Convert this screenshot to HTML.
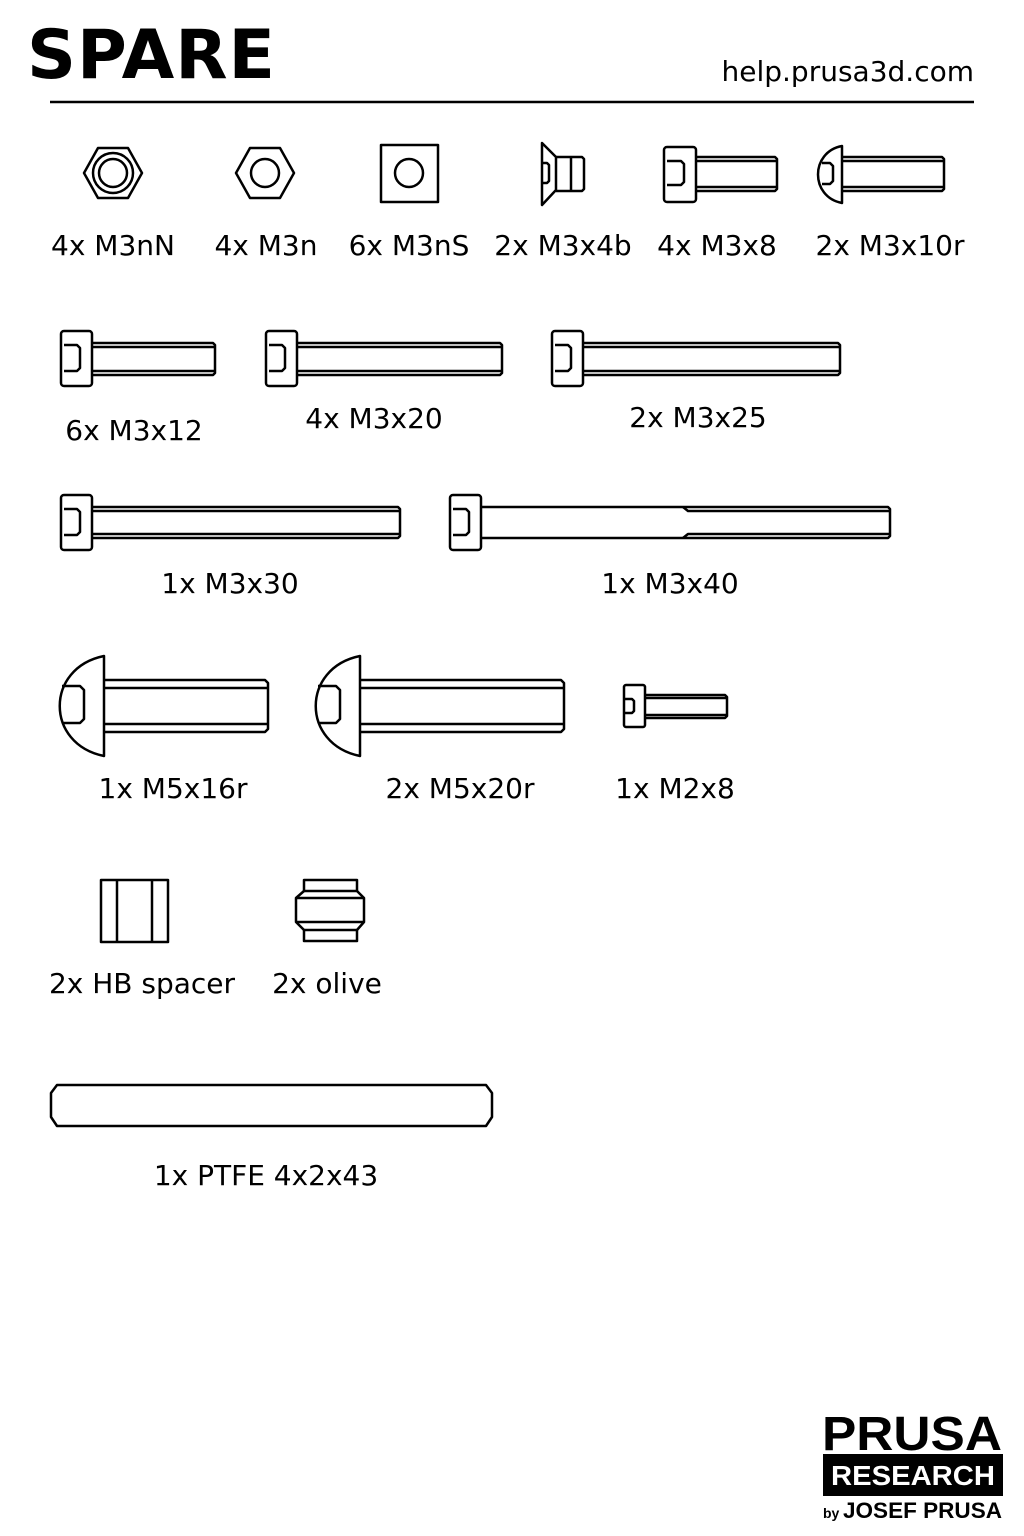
<!DOCTYPE html>
<html><head><meta charset="utf-8"><style>
html,body{margin:0;padding:0;background:#fff;}
body{width:1024px;height:1536px;overflow:hidden;}
svg{display:block}
text{font-family:"DejaVu Sans","Liberation Sans",sans-serif;fill:#000}
</style></head><body>
<svg width="1024" height="1536" viewBox="0 0 1024 1536" xmlns="http://www.w3.org/2000/svg">
<text x="27" y="78" font-size="68" font-weight="bold" font-family="DejaVu Sans" style="letter-spacing:1px">SPARE</text>
<text x="974" y="81" font-size="28" text-anchor="end">help.prusa3d.com</text>
<line x1="50" y1="102" x2="974" y2="102" stroke="#000" stroke-width="2.5"/>

<g fill="none" stroke="#000" stroke-width="2.5" stroke-linejoin="round">
<polygon points="84,173 98,148 128,148 142,173 128,198 98,198"/>
<circle cx="113" cy="173" r="20"/><circle cx="113" cy="173" r="14"/>
<polygon points="236,173 250,148 280,148 294,173 280,198 250,198"/>
<circle cx="265" cy="173" r="14"/>
<rect x="381" y="145" width="57" height="57"/>
<circle cx="409" cy="173" r="14"/>
<path d="M542,143 L556,157 L556,190 L542,205 Z"/>
<path d="M542,163 H547 l2,2 V181 l-2,2 H542"/>
<path d="M556,157 H582 l2,2 V189 l-2,2 H556"/>
<line x1="571" y1="157" x2="571" y2="191"/>
<rect x="664" y="147" width="32" height="55" rx="3"/>
<path d="M667,161 H681 l3,3 V182 l-3,3 H667"/>
<path d="M696,157 H775 l2,2 V189 l-2,2 H696"/>
<line x1="696" y1="161" x2="776" y2="161"/><line x1="696" y1="187" x2="776" y2="187"/>
<path d="M842,146 C810,152 810,197 842,203 Z"/>
<path d="M822,163 H830 l3,3 V181 l-3,3 H822"/>
<path d="M842,157 H942 l2,2 V189 l-2,2 H842"/>
<line x1="842" y1="161" x2="943" y2="161"/><line x1="842" y1="187" x2="943" y2="187"/>

<rect x="61" y="331" width="31" height="55" rx="3"/>
<path d="M64,345 H77 l3,3 V368 l-3,3 H64"/>
<path d="M92,343 H213 l2,2 V373 l-2,2 H92"/>
<line x1="92" y1="347" x2="214" y2="347"/><line x1="92" y1="371" x2="214" y2="371"/>
<rect x="266" y="331" width="31" height="55" rx="3"/>
<path d="M269,345 H282 l3,3 V368 l-3,3 H269"/>
<path d="M297,343 H500 l2,2 V373 l-2,2 H297"/>
<line x1="297" y1="347" x2="501" y2="347"/><line x1="297" y1="371" x2="501" y2="371"/>
<rect x="552" y="331" width="31" height="55" rx="3"/>
<path d="M555,345 H568 l3,3 V368 l-3,3 H555"/>
<path d="M583,343 H838 l2,2 V373 l-2,2 H583"/>
<line x1="583" y1="347" x2="839" y2="347"/><line x1="583" y1="371" x2="839" y2="371"/>
<rect x="61" y="495" width="31" height="55" rx="3"/>
<path d="M64,509 H77 l3,3 V532 l-3,3 H64"/>
<path d="M92,507 H398 l2,2 V536 l-2,2 H92"/>
<line x1="92" y1="511" x2="399" y2="511"/><line x1="92" y1="534" x2="399" y2="534"/>
<rect x="450" y="495" width="31" height="55" rx="3"/>
<path d="M453,509 H466 l3,3 V532 l-3,3 H453"/>
<path d="M481,507 H888 l2,2 V536 l-2,2 H481"/>
<path d="M683,507 l5,4 H889 M683,538 l5,-4 H889"/>

<path d="M104,656 C45,668 45,744 104,756 Z"/>
<path d="M62,686 H80 l4,4 V719 l-4,4 H62"/>
<path d="M104,680 H265 l3,3 V729 l-3,3 H104"/>
<line x1="104" y1="688" x2="267" y2="688"/><line x1="104" y1="724" x2="267" y2="724"/>
<path d="M360,656 C301,668 301,744 360,756 Z"/>
<path d="M318,686 H336 l4,4 V719 l-4,4 H318"/>
<path d="M360,680 H561 l3,3 V729 l-3,3 H360"/>
<line x1="360" y1="688" x2="563" y2="688"/><line x1="360" y1="724" x2="563" y2="724"/>
<rect x="624" y="685" width="21" height="42" rx="2"/>
<path d="M625,699 H632 l2,2 V711 l-2,2 H625"/>
<path d="M645,695 H725 l2,2 V716 l-2,2 H645"/>
<line x1="645" y1="698" x2="726" y2="698"/><line x1="645" y1="715" x2="726" y2="715"/>

<rect x="101" y="880" width="67" height="62"/>
<line x1="117" y1="880" x2="117" y2="942"/><line x1="152" y1="880" x2="152" y2="942"/>
<rect x="304" y="880" width="53" height="11"/>
<path d="M304,891 L296,898 V922 L304,930 M357,891 L364,898 V922 L357,930"/>
<line x1="296" y1="898" x2="364" y2="898"/><line x1="296" y1="922" x2="364" y2="922"/>
<rect x="304" y="930" width="53" height="11"/>
<path d="M57,1085 H486 L492,1093 V1117 L486,1126 H57 L51,1117 V1093 Z"/>
</g>

<g font-size="28">
<text x="113" y="255" text-anchor="middle">4x M3nN</text>
<text x="266" y="255" text-anchor="middle">4x M3n</text>
<text x="409" y="255" text-anchor="middle">6x M3nS</text>
<text x="563" y="255" text-anchor="middle">2x M3x4b</text>
<text x="717" y="255" text-anchor="middle">4x M3x8</text>
<text x="890" y="255" text-anchor="middle">2x M3x10r</text>
<text x="134" y="440" text-anchor="middle">6x M3x12</text>
<text x="374" y="428" text-anchor="middle">4x M3x20</text>
<text x="698" y="427" text-anchor="middle">2x M3x25</text>
<text x="230" y="593" text-anchor="middle">1x M3x30</text>
<text x="670" y="593" text-anchor="middle">1x M3x40</text>
<text x="173" y="798" text-anchor="middle">1x M5x16r</text>
<text x="460" y="798" text-anchor="middle">2x M5x20r</text>
<text x="675" y="798" text-anchor="middle">1x M2x8</text>
<text x="142" y="993" text-anchor="middle">2x HB spacer</text>
<text x="327" y="993" text-anchor="middle">2x olive</text>
<text x="266" y="1185" text-anchor="middle">1x PTFE 4x2x43</text>
</g>

<text x="912" y="1450" font-size="48" font-weight="bold" text-anchor="middle" textLength="180" lengthAdjust="spacingAndGlyphs" style="font-family:'Liberation Sans',sans-serif">PRUSA</text>
<rect x="823" y="1454" width="180" height="42" fill="#000"/>
<text x="913" y="1485" font-size="28" font-weight="bold" text-anchor="middle" textLength="164" lengthAdjust="spacingAndGlyphs" style="fill:#fff;font-family:'Liberation Sans',sans-serif">RESEARCH</text>
<text x="823" y="1518" font-size="14" font-weight="bold" style="font-family:'Liberation Sans',sans-serif">by</text>
<text x="843" y="1518" font-size="22" font-weight="bold" textLength="159" lengthAdjust="spacingAndGlyphs" style="font-family:'Liberation Sans',sans-serif">JOSEF PRUSA</text>
</svg>
</body></html>
